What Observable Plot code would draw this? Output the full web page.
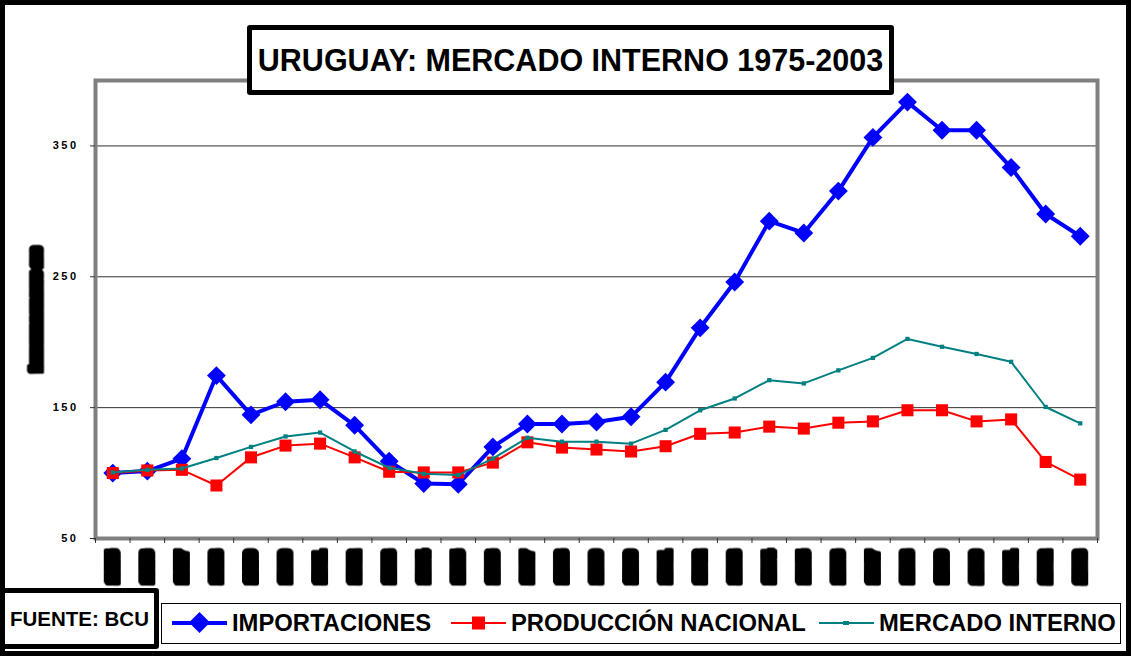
<!DOCTYPE html>
<html>
<head>
<meta charset="utf-8">
<script src="https://cdn.jsdelivr.net/npm/d3@7"></script>
<script src="https://cdn.jsdelivr.net/npm/@observablehq/plot@0.6"></script>
<style>
  html, body { margin: 0; padding: 0; background: #fff; }
  #wrap { position: relative; width: 1131px; height: 656px; overflow: hidden; font-family: "Liberation Sans", Arial, sans-serif; }
  #border { position: absolute; left: 0; top: 0; width: 1131px; height: 656px; box-sizing: border-box; border: 5px solid #000; pointer-events: none; }
  #title { position: absolute; left: 247px; top: 25px; width: 647px; height: 70px; box-sizing: border-box; border: 5px solid #000; border-radius: 3px; background: #fff;
           display: flex; align-items: center; justify-content: center; font-weight: bold; font-size: 30.5px; color: #000; white-space: nowrap; }
  #fuente { position: absolute; left: 0; top: 588px; width: 159px; height: 61px; box-sizing: border-box; border: 5px solid #000; border-radius: 3px; background: #fff;
            display: flex; align-items: center; justify-content: center; font-weight: bold; font-size: 20.5px; white-space: nowrap; }
  #legend { position: absolute; left: 161px; top: 603px; width: 960px; height: 41px; box-sizing: border-box; border: 1.5px solid #000; background: #fff; }
  .li { position: absolute; top: 0; height: 38px; display: flex; align-items: center; font-weight: bold; font-size: 23.8px; white-space: nowrap; }
  .li svg { margin-right: 5px; }
  g[aria-label="y-axis tick label"] text { letter-spacing: 2.5px; }
  g[aria-label="x-axis tick label"] text { stroke: #000; stroke-width: 4px; stroke-linejoin: round; paint-order: stroke; filter: url(#blkx); }
  g[aria-label="y-axis label"] text { stroke: #000; stroke-width: 3px; stroke-linejoin: round; paint-order: stroke; filter: url(#blky); }
</style>
</head>
<body>
<div id="wrap">
  <div id="chart"></div>
  <div id="title">URUGUAY: MERCADO INTERNO 1975-2003</div>
  <div id="fuente">FUENTE: BCU</div>
  <div id="legend"></div>
  <div id="border"></div>
</div>
<script>
const years = [1975,1976,1977,1978,1979,1980,1981,1982,1983,1984,1985,1986,1987,1988,1989,1990,1991,1992,1993,1994,1995,1996,1997,1998,1999,2000,2001,2002,2003];
const importaciones = [100,101.5,111,174.5,144.5,154.5,156,136.5,109,92,91.5,120,137.5,137.5,139,143,169.5,211,246,292.5,283.5,315.5,356.5,383.5,362,362,333.5,298,281];
const produccionNacional = [100,102,102.5,90.5,112,121,122.5,112,101,100.5,100.5,108,123.5,119.5,118,116.5,120.5,130,131,135.5,134,138.5,139.5,148,148,139.5,141,108.5,95];
const mercadoInterno = [100.5,102.5,103.5,111.5,120,128,131,116.5,104,99.5,98.5,111,127,124,124,122.5,133,148,157,171,168.5,178.5,188,202.5,196.5,191,185,150.5,138];
const seriesNames = ["IMPORTACIONES", "PRODUCCIÓN NACIONAL", "MERCADO INTERNO"];
const seriesColors = ["#0000ff", "#ff0000", "#008080"];
const yTicks = [50, 150, 250, 350];
const yGrid = [150, 250, 350];
const yTitle = "ÍNDICE BASE 1975=100";

const toRows = (vals) => years.map((y, i) => ({year: y, value: vals[i]}));
const imp = toRows(importaciones);
const prod = toRows(produccionNacional);
const merc = toRows(mercadoInterno);
const boundaries = [...years.map(y => y - 0.5), years[years.length - 1] + 0.5];

const chart = Plot.plot({
  width: 1131,
  height: 656,
  marginTop: 80,
  marginBottom: 118,
  marginLeft: 95,
  marginRight: 34,
  style: { fontFamily: "'Liberation Sans', Arial, sans-serif", background: "transparent", color: "#000" },
  x: { type: "linear", domain: [1974.5, 2003.5] },
  y: { domain: [50, 400] },
  marks: [
    Plot.gridY(yGrid, { stroke: "#333", strokeOpacity: 1, strokeWidth: 1 }),
    Plot.frame({ stroke: "#808080", strokeWidth: 4 }),
    Plot.axisY({ ticks: yTicks, tickSize: 5, tickPadding: 12, tickFormat: d => String(d), fontSize: 11, fontWeight: "bold",
                 label: yTitle, labelAnchor: "center", labelArrow: "none", labelOffset: 63, stroke: "#333" }),
    Plot.axisX({ ticks: boundaries, tickSize: 5, tickFormat: () => "", label: null, stroke: "#333" }),
    Plot.axisX({ ticks: years, tickSize: 0, tickPadding: 14, tickRotate: -90, tickFormat: d => String(d), fontSize: 13, fontWeight: "bold", label: null }),
    Plot.line(imp, { x: "year", y: "value", stroke: seriesColors[0], strokeWidth: 4 }),
    Plot.dot(imp, { x: "year", y: "value", symbol: "diamond2", r: 8.5, fill: seriesColors[0], stroke: null }),
    Plot.line(prod, { x: "year", y: "value", stroke: seriesColors[1], strokeWidth: 2 }),
    Plot.dot(prod, { x: "year", y: "value", symbol: "square", r: 6.8, fill: seriesColors[1], stroke: null }),
    Plot.line(merc, { x: "year", y: "value", stroke: seriesColors[2], strokeWidth: 2 }),
    Plot.dot(merc, { x: "year", y: "value", symbol: "square", r: 2.4, fill: seriesColors[2], stroke: null })
  ]
});
// dilation filters that render the rotated labels as solid blocks, as in the source image
const defs = d3.select(chart).insert("defs", ":first-child");
defs.append("filter").attr("id", "blkx").attr("x", "-40%").attr("y", "-80%").attr("width", "180%").attr("height", "260%")
  .append("feMorphology").attr("operator", "dilate").attr("radius", "2.5 1.8");
defs.append("filter").attr("id", "blky").attr("x", "-10%").attr("y", "-80%").attr("width", "120%").attr("height", "260%")
  .append("feMorphology").attr("operator", "dilate").attr("radius", "2 1.6");
document.getElementById("chart").appendChild(chart);

// Legend
const legend = document.getElementById("legend");
const legendX = [10, 289, 657];
const legendSym = [
  c => `<polygon points="27.5,0 38,10.5 27.5,21 17,10.5" fill="${c}"/>`,
  c => `<rect x="21" y="4.5" width="13" height="13" fill="${c}"/>`,
  c => `<rect x="24" y="9" width="6" height="4" fill="${c}"/>`
];
const legendW = [4, 2, 2];
seriesNames.forEach((name, i) => {
  const d = document.createElement("div");
  d.className = "li";
  d.style.left = legendX[i] + "px";
  d.innerHTML = `<svg width="55" height="22"><line x1="0" x2="55" y1="11" y2="11" stroke="${seriesColors[i]}" stroke-width="${legendW[i]}"/>${legendSym[i](seriesColors[i])}</svg><span>${name}</span>`;
  legend.appendChild(d);
});
</script>
</body>
</html>
